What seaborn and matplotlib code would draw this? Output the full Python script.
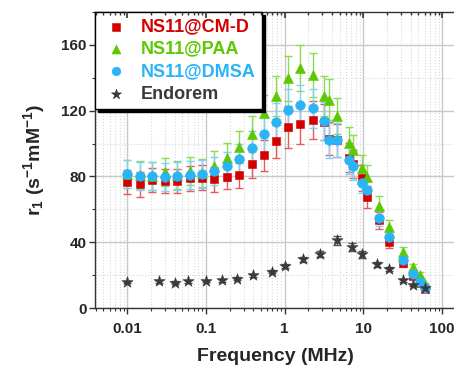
import numpy as np
import matplotlib
matplotlib.use("Agg")
import matplotlib.pyplot as plt
import matplotlib.ticker as mticker
import seaborn as sns

# NMRD profiles, r1 (s^-1 mM^-1) vs Larmor frequency (MHz)
freq_np = [0.01, 0.0144, 0.0208, 0.03, 0.043, 0.062, 0.089, 0.128, 0.185, 0.266,
           0.38, 0.55, 0.78, 1.1, 1.57, 2.27, 3.2, 3.7, 4.6, 6.6,
           7.3, 9.5, 11, 15.6, 21, 32, 42, 52, 61]

r1_cmd = [76.6, 75.2, 77.8, 77.2, 77.2, 78.8, 79.2, 78.2, 79.6, 80.9,
          87.7, 92.8, 101.3, 110.0, 112.0, 114.1, 113.3, 103.0, 102.0, 91.4,
          87.7, 79.2, 67.5, 53.3, 40.3, 27.5, 19.5, 15.4, 11.4]
err_cmd = [7.5, 7.5, 7.5, 7.5, 7.5, 7.5, 7.5, 7.5, 7.5, 8.0,
           8.5, 9.5, 10.0, 13.0, 12.0, 11.5, 11.0, 10.0, 10.0, 9.0,
           8.5, 8.0, 6.5, 5.0, 4.0, 2.5, 2.0, 1.5, 1.0]

r1_paa = [81.6, 80.9, 80.2, 82.9, 80.9, 83.3, 82.3, 86.3, 91.0, 97.9,
          105.6, 118.3, 128.9, 139.6, 146.1, 141.6, 128.9, 126.6, 116.9, 100.5,
          96.0, 84.9, 79.8, 62.0, 49.2, 34.2, 24.9, 20.1, 14.4]
err_paa = [8.5, 8.5, 8.5, 8.5, 8.5, 8.5, 8.5, 9.0, 9.5, 10.0,
           11.0, 11.5, 12.0, 13.5, 14.0, 13.5, 12.0, 12.5, 11.0, 9.5,
           9.0, 8.0, 7.0, 6.0, 4.5, 3.0, 2.0, 1.5, 1.0]

r1_dmsa = [81.3, 80.2, 80.2, 79.8, 80.0, 80.6, 81.6, 83.3, 86.1, 90.4,
           97.4, 105.6, 113.1, 120.4, 123.2, 121.4, 113.7, 101.9, 102.3, 89.8,
           86.1, 76.2, 71.9, 54.5, 43.0, 29.2, 20.5, 16.0, 12.3]
err_dmsa = [8.5, 8.5, 8.5, 8.5, 8.5, 8.5, 8.5, 8.5, 9.0, 9.5,
            10.0, 11.0, 11.5, 12.5, 12.5, 12.0, 11.5, 10.5, 10.5, 8.5,
            8.0, 6.0, 5.5, 4.5, 3.5, 2.5, 2.0, 1.5, 1.0]

freq_end = [0.01, 0.025, 0.04, 0.06, 0.1, 0.16, 0.25, 0.4, 0.7, 1.0,
            1.7, 2.8, 4.6, 7.2, 9.5, 15, 21, 32, 42, 60]
r1_end = [15.8, 16.2, 15.4, 16.2, 16.4, 16.8, 17.8, 19.9, 22.1, 25.3,
          29.6, 32.6, 41.2, 37.3, 32.6, 26.7, 23.7, 16.8, 14.0, 12.0]
err_end = [0.8, 0.8, 0.8, 0.8, 0.8, 0.8, 0.8, 1.0, 1.0, 1.2,
           1.5, 1.8, 2.8, 2.5, 2.0, 1.5, 1.2, 1.0, 0.8, 0.8]

xticks = [0.01, 0.1, 1, 10, 100]
xtick_labels = ["0.01", "0.1", "1", "10", "100"]

sns.set_theme(style="ticks")
plt.rcParams["font.family"] = ["Liberation Sans", "DejaVu Sans"]
plt.rcParams["font.weight"] = "bold"
plt.rcParams["mathtext.fontset"] = "custom"
plt.rcParams["mathtext.bf"] = "Liberation Sans:bold"
plt.rcParams["mathtext.rm"] = "Liberation Sans:bold"
plt.rcParams["mathtext.default"] = "bf"

fig = plt.figure(figsize=(4.54, 3.71), dpi=100)
ax = fig.add_axes([95 / 454, 63 / 371, 359 / 454 + 0.005, 296 / 371])

series = [
    ("NS11@CM-D", freq_np, r1_cmd, err_cmd, "s", "#d40000", "#e85a5a", 34),
    ("NS11@PAA", freq_np, r1_paa, err_paa, "^", "#5cc800", "#8cdc50", 52),
    ("NS11@DMSA", freq_np, r1_dmsa, err_dmsa, "o", "#2ab4f5", "#7fd0fa", 48),
    ("Endorem", freq_end, r1_end, err_end, "*", "#3a3a3a", "#555555", 72),
]

for label, fx, fy, fe, mk, col, ecol, size in series:
    ax.errorbar(fx, fy, yerr=fe, fmt="none", ecolor=ecol, elinewidth=1.0,
                capsize=3, capthick=1.0, zorder=2)
    sns.scatterplot(x=fx, y=fy, marker=mk, color=col, s=size, linewidth=0.4,
                    edgecolor=col, label=label, ax=ax, zorder=3)

ax.set_xscale("log")
ax.set_xlim(0.0039, 151)
ax.set_ylim(0, 180)

ax.xaxis.set_major_locator(mticker.FixedLocator(xticks))
ax.xaxis.set_major_formatter(mticker.FixedFormatter(xtick_labels))
ax.xaxis.set_minor_locator(mticker.LogLocator(base=10, subs=np.arange(2, 10), numticks=20))
ax.xaxis.set_minor_formatter(mticker.NullFormatter())
ax.yaxis.set_major_locator(mticker.MultipleLocator(40))
ax.yaxis.set_minor_locator(mticker.MultipleLocator(20))

ax.grid(which="major", color="#c8c8c8", linewidth=1.0, linestyle="-", zorder=0)
ax.grid(which="minor", color="#d8d8d8", linewidth=0.8, linestyle=":", zorder=0)
ax.set_axisbelow(True)

for side in ["left", "bottom", "top"]:
    ax.spines[side].set_color("#333333")
    ax.spines[side].set_linewidth(1.0)
ax.spines["right"].set_visible(False)

ax.tick_params(axis="both", which="major", direction="out", length=4, width=1,
               color="#333333", labelsize=11)
ax.tick_params(axis="x", which="major", pad=6)
ax.tick_params(axis="y", which="major", pad=2)
ax.tick_params(axis="both", which="minor", direction="out", length=2.5, width=0.8,
               color="#333333")

# inward ticks on the top spine, no labels
axt = ax.twiny()
axt.set_xscale("log")
axt.set_xlim(ax.get_xlim())
axt.xaxis.set_major_locator(mticker.FixedLocator(xticks))
axt.xaxis.set_minor_locator(mticker.LogLocator(base=10, subs=np.arange(2, 10), numticks=20))
axt.xaxis.set_major_formatter(mticker.NullFormatter())
axt.xaxis.set_minor_formatter(mticker.NullFormatter())
axt.tick_params(axis="x", which="major", direction="in", length=4, width=1.2, color="#333333")
axt.tick_params(axis="x", which="minor", direction="in", length=2.5, width=1.0, color="#333333")
for side in ["left", "right", "bottom", "top"]:
    axt.spines[side].set_visible(False)

ax.set_xlabel("Frequency (MHz)", fontsize=14, fontweight="bold", labelpad=9)
ax.set_ylabel(r"r$_1$ (s$^{-1}$mM$^{-1}$)", fontsize=14, fontweight="bold", labelpad=10)

leg = ax.legend(loc="upper left", borderaxespad=0, fontsize=13, frameon=True,
                fancybox=False, edgecolor="black", framealpha=1,
                shadow={"color": "black", "alpha": 1},
                handletextpad=0.6, labelspacing=0.3, borderpad=0.35,
                handlelength=1.6, markerscale=0.9)
leg.get_frame().set_linewidth(1.0)
leg.set_zorder(10)
for text, s in zip(leg.get_texts(), series):
    text.set_color(s[5])
    text.set_fontweight("bold")

fig.savefig("out.png", dpi=100)
